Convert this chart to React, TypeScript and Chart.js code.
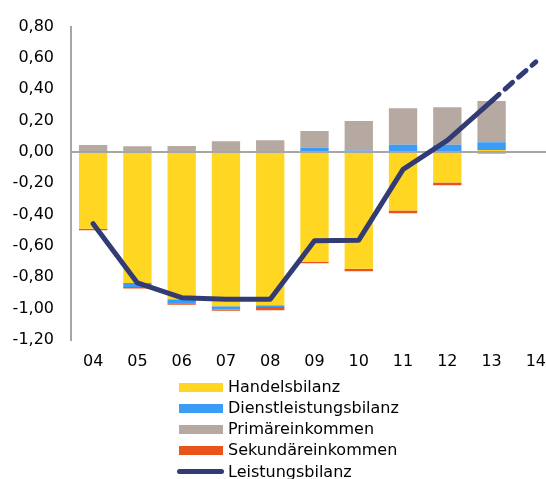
import React, { useEffect, useRef } from "react";
import { Chart, registerables } from "chart.js";

Chart.register(...registerables);

const categories = ["04", "05", "06", "07", "08", "09", "10", "11", "12", "13", "14"];
const handelsbilanz = [-0.49, -0.836, -0.94, -0.985, -0.978, -0.7, -0.745, -0.374, -0.195, 0.012, null];
const dienstleistungsbilanz = [0.004, -0.025, -0.025, -0.02, -0.012, 0.027, 0.01, 0.046, 0.046, 0.05, null];
const primaereinkommen = [0.04, 0.036, 0.038, 0.069, 0.074, 0.107, 0.187, 0.233, 0.24, 0.263, null];
const sekundaereinkommen = [-0.01, -0.01, -0.01, -0.008, -0.02, -0.01, -0.017, -0.017, -0.017, -0.01, null];
const leistungsbilanz = [-0.458, -0.836, -0.93, -0.94, -0.94, -0.567, -0.563, -0.111, 0.074, 0.325, 0.575];

const yMin = -1.2;
const yMax = 0.8;
const yStep = 0.2;

const COLORS = {
  handel: "#FFD622",
  dienst: "#3A9CF6",
  primaer: "#B5A9A1",
  sekundaer: "#E9541D",
  leistung: "#333B74",
  axis: "#A6A6A6",
};

const FONT = "DejaVu Sans";

const legendItems = [
  { label: "Handelsbilanz", color: COLORS.handel, kind: "box" },
  { label: "Dienstleistungsbilanz", color: COLORS.dienst, kind: "box" },
  { label: "Primäreinkommen", color: COLORS.primaer, kind: "box" },
  { label: "Sekundäreinkommen", color: COLORS.sekundaer, kind: "box" },
  { label: "Leistungsbilanz", color: COLORS.leistung, kind: "line" },
];
const legendRowCenters = [387, 408, 429, 450, 471.5];

function fmt(v: number) {
  const n = Math.abs(v) < 1e-9 ? 0 : v;
  return n.toFixed(2).replace(".", ",");
}

export default function App() {
  const ref = useRef<HTMLCanvasElement>(null);

  useEffect(() => {
    if (!ref.current) return;
    const barCommon = {
      type: "bar" as const,
      borderWidth: 0,
      barPercentage: 0.64,
      categoryPercentage: 1,
      stack: "bars",
      order: 1,
    };
    const chart = new Chart(ref.current, {
      type: "bar",
      data: {
        labels: categories,
        datasets: [
          { ...barCommon, label: "Handelsbilanz", data: handelsbilanz, backgroundColor: COLORS.handel },
          { ...barCommon, label: "Dienstleistungsbilanz", data: dienstleistungsbilanz, backgroundColor: COLORS.dienst },
          { ...barCommon, label: "Primäreinkommen", data: primaereinkommen, backgroundColor: COLORS.primaer },
          { ...barCommon, label: "Sekundäreinkommen", data: sekundaereinkommen, backgroundColor: COLORS.sekundaer },
          {
            type: "line" as const,
            label: "Leistungsbilanz",
            data: leistungsbilanz,
            borderColor: COLORS.leistung,
            backgroundColor: COLORS.leistung,
            borderWidth: 5,
            pointRadius: 0,
            tension: 0,
            borderCapStyle: "round",
            borderJoinStyle: "round",
            stack: "line",
            order: 0,
            segment: {
              borderDash: (ctx: any) => (ctx.p1DataIndex === categories.length - 1 ? [10, 8] : undefined),
            },
          } as any,
        ],
      },
      options: {
        responsive: false,
        devicePixelRatio: 1,
        animation: false,
        layout: { padding: { top: 22, left: 0, right: 4, bottom: 0 } },
        plugins: {
          legend: { display: false },
          tooltip: { enabled: false },
        },
        scales: {
          x: {
            stacked: true,
            grid: { display: false, drawTicks: false },
            border: { display: false },
            ticks: {
              color: "#000",
              font: { family: FONT, size: 16 },
              padding: 12,
              maxRotation: 0,
              autoSkip: false,
            },
            afterFit: (s: any) => {
              s.height = 40;
            },
          },
          y: {
            stacked: true,
            min: yMin,
            max: yMax,
            ticks: {
              stepSize: yStep,
              padding: 17,
              color: "#000",
              font: { family: FONT, size: 16 },
              callback: (v: any) => fmt(Number(v)),
            },
            grid: {
              drawTicks: false,
              lineWidth: 2,
              color: (ctx: any) =>
                ctx.tick && Math.abs(ctx.tick.value) < 1e-9 ? COLORS.axis : "rgba(0,0,0,0)",
            },
            border: { display: true, color: COLORS.axis, width: 2 },
            afterFit: (s: any) => {
              s.width = 71;
            },
          },
        },
      } as any,
    });
    return () => chart.destroy();
  }, []);

  return (
    <div
      style={{
        position: "absolute",
        left: 0,
        top: 0,
        width: 546,
        height: 479,
        overflow: "hidden",
        background: "#fff",
      }}
    >
      <canvas ref={ref} width={562} height={380} style={{ display: "block", width: 562, height: 380 }} />
      {legendItems.map((it, i) => {
        const c = legendRowCenters[i];
        return (
          <React.Fragment key={it.label}>
            {it.kind === "box" ? (
              <div
                style={{
                  position: "absolute",
                  left: 179,
                  top: c - 4.5,
                  width: 44,
                  height: 9,
                  background: it.color,
                }}
              />
            ) : (
              <div
                style={{
                  position: "absolute",
                  left: 177,
                  top: c - 2.5,
                  width: 47,
                  height: 5,
                  borderRadius: 3,
                  background: it.color,
                }}
              />
            )}
            <div
              style={{
                position: "absolute",
                left: 228,
                top: c - 10,
                height: 20,
                lineHeight: "20px",
                fontFamily: FONT,
                fontSize: 16,
                color: "#000",
                whiteSpace: "nowrap",
              }}
            >
              {it.label}
            </div>
          </React.Fragment>
        );
      })}
    </div>
  );
}
